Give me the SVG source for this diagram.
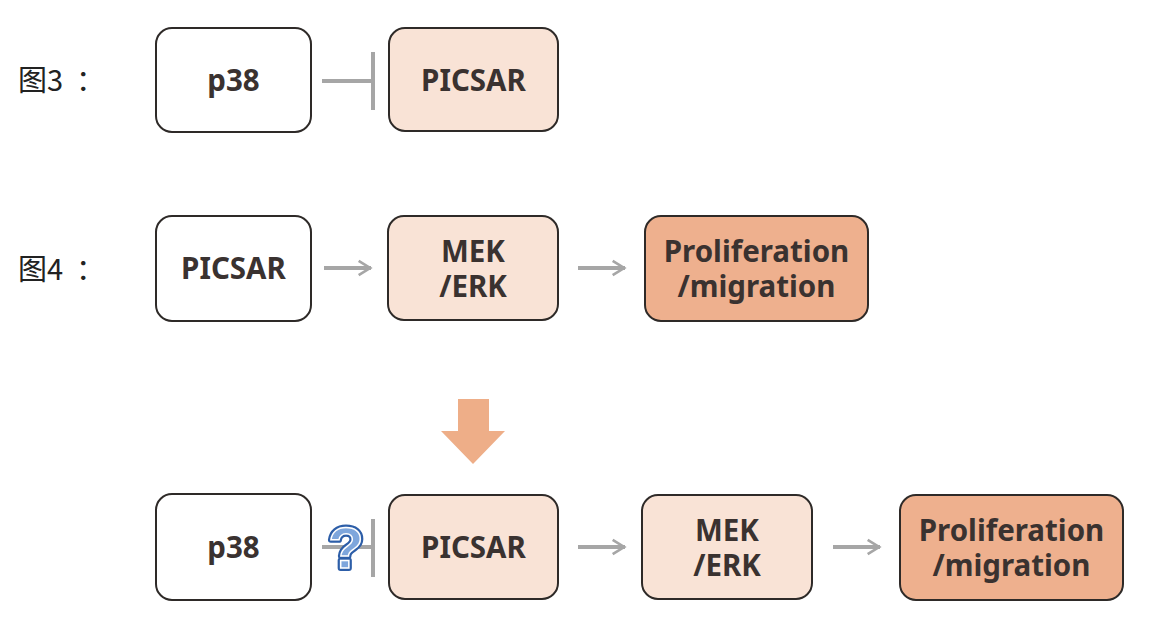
<svg xmlns="http://www.w3.org/2000/svg" width="1150" height="644" viewBox="0 0 1150 644">
<style>
.box{stroke:#2e2a28;stroke-width:2}
.w{fill:#ffffff}
.l{fill:#f9e3d6}
.d{fill:#eeb08e}
.t{font-family:"Noto Sans","Open Sans","Liberation Sans",sans-serif;font-weight:bold;font-size:29.5px;fill:#3a3230;text-anchor:middle}
.lab{font-family:"Noto Sans CJK SC","Noto Sans",sans-serif;font-size:29px;fill:#222}
.c{stroke:#a6a6a6;stroke-width:4;fill:none;stroke-linecap:butt}
.q{font-family:"Liberation Sans",sans-serif;font-weight:bold;font-size:58px;text-anchor:middle}
</style>
<defs>
<marker id="ah" viewBox="0 0 10 10" refX="9" refY="5" markerWidth="4.4" markerHeight="4.4" orient="auto" markerUnits="strokeWidth">
<polyline points="2,1 8.5,5 2,9" fill="none" stroke="#a6a6a6" stroke-width="1.5"/>
</marker>
</defs>
<rect width="1150" height="644" fill="#ffffff"/>
<text class="lab" x="18" y="91">图3<tspan x="76">：</tspan></text>
<text class="lab" x="18" y="280">图4<tspan x="76">：</tspan></text>

<g id="connectors">
<line class="c" x1="322" y1="81" x2="373" y2="81"/>
<line class="c" x1="373" y1="52" x2="373" y2="110"/>
<line class="c" x1="324" y1="268" x2="371" y2="268" marker-end="url(#ah)"/>
<line class="c" x1="578" y1="268" x2="625" y2="268" marker-end="url(#ah)"/>
<line class="c" x1="322" y1="547" x2="373" y2="547"/>
<line class="c" x1="373" y1="519" x2="373" y2="577"/>
<line class="c" x1="578" y1="547" x2="625" y2="547" marker-end="url(#ah)"/>
<line class="c" x1="833" y1="547" x2="880" y2="547" marker-end="url(#ah)"/>
</g>

<g id="q">
<text class="q" x="346" y="568" fill="#2d5ea8" stroke="#2d5ea8" stroke-width="6" stroke-linejoin="round">?</text>
<text class="q" x="346" y="568" fill="#7ea6dc" stroke="#ffffff" stroke-width="1.5">?</text>
</g>

<g id="down-arrow">
<polygon points="458,399 489,399 489,431 505,431 473,464 441,431 458,431" fill="#eeae88"/>
</g>

<g id="n1"><rect class="box w" x="156" y="28" width="155" height="104" rx="16"/><text class="t" x="233.5" y="91">p38</text></g>
<g id="n2"><rect class="box l" x="389" y="28" width="169" height="103" rx="16"/><text class="t" x="473.5" y="91">PICSAR</text></g>

<g id="n3"><rect class="box w" x="156" y="216" width="155" height="105" rx="16"/><text class="t" x="233.5" y="279">PICSAR</text></g>
<g id="n4"><rect class="box l" x="388" y="216" width="170" height="104" rx="16"/><text class="t" x="473" y="262">MEK<tspan x="473" y="297">/ERK</tspan></text></g>
<g id="n5"><rect class="box d" x="645" y="216" width="223" height="105" rx="16"/><text class="t" x="756.5" y="262">Proliferation<tspan x="756.5" y="297">/migration</tspan></text></g>

<g id="n6"><rect class="box w" x="156" y="494" width="155" height="106" rx="16"/><text class="t" x="233.5" y="558">p38</text></g>
<g id="n7"><rect class="box l" x="389" y="495" width="169" height="104" rx="16"/><text class="t" x="473.5" y="558">PICSAR</text></g>
<g id="n8"><rect class="box l" x="642" y="495" width="170" height="104" rx="16"/><text class="t" x="727" y="541">MEK<tspan x="727" y="576">/ERK</tspan></text></g>
<g id="n9"><rect class="box d" x="900" y="495" width="223" height="105" rx="16"/><text class="t" x="1011.5" y="541">Proliferation<tspan x="1011.5" y="576">/migration</tspan></text></g>
</svg>
